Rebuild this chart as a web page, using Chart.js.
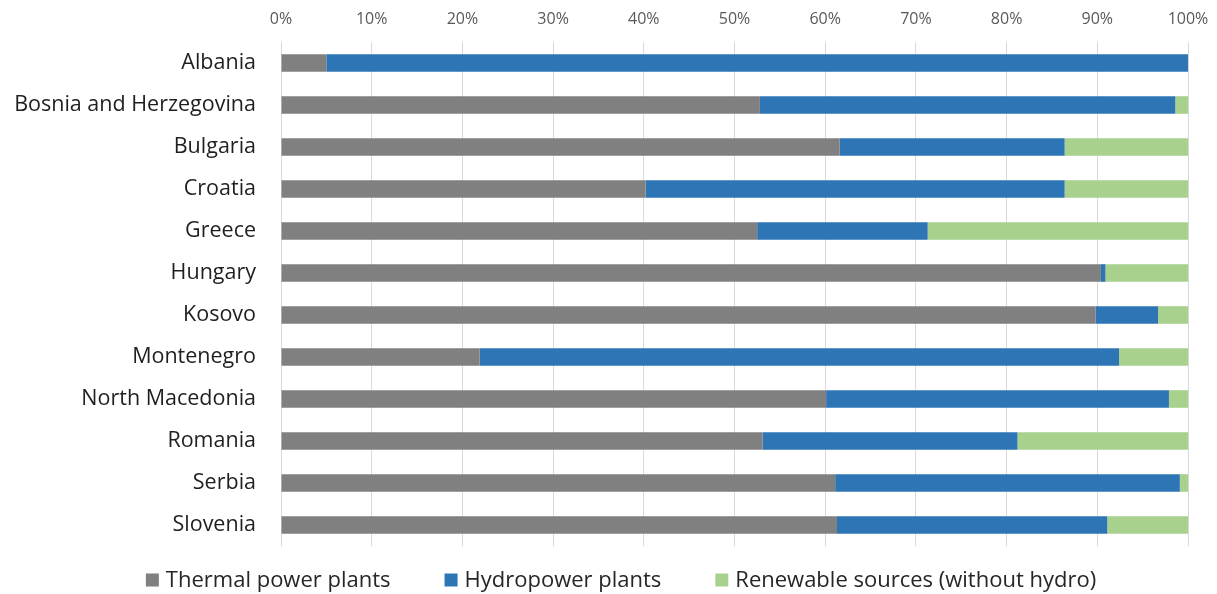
<!DOCTYPE html>
<html>
<head>
<meta charset="utf-8">
<title>Electricity generation mix</title>
<script src="https://cdn.jsdelivr.net/npm/chart.js@4"></script>
<style>
    body { margin: 0; background: #ffffff; }
    #wrap { width: 1217px; height: 594px; }
</style>
</head>
<body>
<div id="wrap"><canvas id="mixChart"></canvas></div>
<script>
let countries = ["Albania", "Bosnia and Herzegovina", "Bulgaria", "Croatia", "Greece", "Hungary",
    "Kosovo", "Montenegro", "North Macedonia", "Romania", "Serbia", "Slovenia"];

// share of generation, %
let thermal   = [5.0, 52.8, 61.6, 40.2, 52.5, 90.4, 89.8, 21.9, 60.1, 53.1, 61.1, 61.3];
let hydro     = [95.0, 45.8, 24.8, 46.2, 18.8, 0.5, 6.9, 70.5, 37.8, 28.1, 38.0, 29.8];
let renewable = [0.0, 1.4, 13.6, 13.6, 28.7, 9.1, 3.3, 7.6, 2.1, 18.8, 0.9, 8.9];

let seriesNames = ["Thermal power plants", "Hydropower plants", "Renewable sources (without hydro)"];
let seriesColors = ["#808080", "#2e75b6", "#a9d18e"];
let tickValues = [0, 10, 20, 30, 40, 50, 60, 70, 80, 90, 100];

// Legend drawn by hand so the spacing between items can be set freely
let bottomLegend = {
    id: "bottomLegend",
    afterDraw: function (chart) {
        let ctx = chart.ctx;
        let box = 13;
        let gap = 7;
        let between = 54;
        let y = 580;
        ctx.save();
        ctx.font = "22px 'Open Sans'";
        ctx.textBaseline = "middle";
        let widths = seriesNames.map(function (n) { return ctx.measureText(n).width; });
        let total = 0;
        widths.forEach(function (w) { total += box + gap + w; });
        total += between * (seriesNames.length - 1);
        let x = 621 - total / 2;
        for (let i = 0; i < seriesNames.length; i++) {
            ctx.fillStyle = seriesColors[i];
            ctx.fillRect(x, y - box / 2, box, box);
            ctx.fillStyle = "#262626";
            ctx.fillText(seriesNames[i], x + box + gap, y + 1);
            x += box + gap + widths[i] + between;
        }
        ctx.restore();
    }
};

let ctx = document.getElementById("mixChart").getContext("2d");

let chart = new Chart(ctx, {
    type: "bar",
    data: {
        labels: countries,
        datasets: [
            { label: seriesNames[0], data: thermal, backgroundColor: seriesColors[0] },
            { label: seriesNames[1], data: hydro, backgroundColor: seriesColors[1] },
            { label: seriesNames[2], data: renewable, backgroundColor: seriesColors[2] }
        ]
    },
    options: {
        indexAxis: "y",
        responsive: true,
        maintainAspectRatio: false,
        animation: false,
        layout: { padding: { left: 0, right: 29, top: 0, bottom: 48 } },
        datasets: {
            bar: { barPercentage: 0.42, categoryPercentage: 1 }
        },
        plugins: {
            legend: { display: false },
            tooltip: { enabled: false }
        },
        scales: {
            x: {
                position: "top",
                stacked: true,
                min: 0,
                max: 100,
                afterBuildTicks: function (scale) {
                    scale.ticks = tickValues.map(function (v) { return { value: v }; });
                },
                afterFit: function (scale) {
                    scale.height = 42;
                    // the "100%" label fits inside the right padding already
                    scale.paddingRight = 0;
                },
                grid: { color: "#d9d9d9", lineWidth: 1, drawTicks: false },
                border: { display: false },
                ticks: {
                    padding: 13,
                    color: "#595959",
                    font: { family: "'Open Sans'", size: 16 },
                    callback: function (v) { return v + "%"; }
                }
            },
            y: {
                stacked: true,
                afterFit: function (scale) { scale.width = 281; },
                grid: { display: false, drawTicks: false },
                border: { display: false },
                ticks: {
                    padding: 25,
                    color: "#1f1f1f",
                    font: { family: "'Open Sans'", size: 21.5 }
                }
            }
        }
    },
    plugins: [bottomLegend]
});
</script>
</body>
</html>
